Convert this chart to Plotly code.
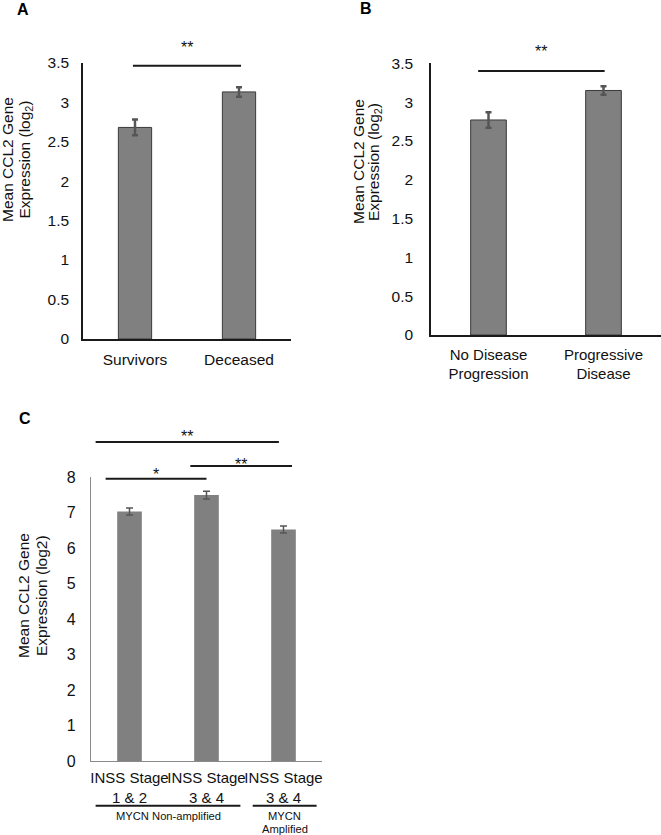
import plotly.graph_objects as go

# ---------------- data ----------------
a_categories = ["Survivors", "Deceased"]
a_values = [2.68, 3.13]
a_errors = [0.10, 0.06]

b_categories = ["No Disease<br>Progression", "Progressive<br>Disease"]
b_values = [2.77, 3.15]
b_errors = [0.10, 0.055]

c_categories = ["INSS Stage<br>1 & 2", "INSS Stage<br>3 & 4", "INSS Stage<br>3 & 4"]
c_values = [7.03, 7.49, 6.52]
c_errors = [0.10, 0.11, 0.10]

a_sig = [(0, 1, "**")]
b_sig = [(0, 1, "**")]
c_sig = [(0, 2, "**"), (1, 2, "**"), (0, 1, "*")]

c_groups = [["MYCN Non-amplified"], ["MYCN", "Amplified"]]

y_title_lines = ["Mean CCL2 Gene", "Expression (log<sub>2</sub>)"]
y_title_lines_c = ["Mean CCL2 Gene", "Expression (log2)"]

# ---------------- layout helpers ----------------
W, H = 661, 835
FONT = "Liberation Sans, Arial, sans-serif"
TXT = "#111111"


def fx(p):
    return p / W


def fy(p):
    return 1 - p / H


fig = go.Figure()
bar_fill = "#808080"

panels = [
    (a_categories, a_values, a_errors, "x", "y", 0.32, dict(color="#3a3a3a", width=1), 2.5, 3),
    (b_categories, b_values, b_errors, "x2", "y2", 0.31, dict(color="#3a3a3a", width=1), 2.5, 3),
    (c_categories, c_values, c_errors, "x3", "y3", 0.32, dict(width=0), 1.5, 3.5),
]
for cats, vals, errs, xa, ya, wid, outline, th, cw in panels:
    fig.add_trace(go.Bar(
        x=list(range(len(cats))), y=vals, width=wid,
        marker=dict(color=bar_fill, line=outline),
        error_y=dict(type="data", array=errs, color="#555555", thickness=th, width=cw),
        xaxis=xa, yaxis=ya, showlegend=False, hoverinfo="skip"))


def xaxis(domain, anchor, cats, size, standoff, color, lw):
    return dict(domain=[fx(domain[0]), fx(domain[1])], anchor=anchor, automargin=False,
                range=[-0.5, len(cats) - 0.5], tickvals=list(range(len(cats))), ticktext=cats,
                tickangle=0, showline=True, linecolor=color, linewidth=lw, showgrid=False,
                zeroline=False, ticks="", ticklabelstandoff=standoff,
                tickfont=dict(family=FONT, size=size, color=TXT))


def yaxis(domain, anchor, rng, dtick, size, standoff, color, lw):
    return dict(domain=[fy(domain[1]), fy(domain[0])], anchor=anchor, range=rng, automargin=False,
                dtick=dtick, showline=True, linecolor=color, linewidth=lw,
                showgrid=False, zeroline=False, ticks="", ticklabelstandoff=standoff,
                tickfont=dict(family=FONT, size=size, color=TXT))


A_X, A_Y = (83, 291), (62.7, 339)
B_X, B_Y = (431, 661), (63.3, 335)
C_X, C_Y = (91, 322), (477, 761)

fig.update_layout(
    width=W, height=H, margin=dict(l=0, r=0, t=0, b=0, pad=0), autosize=False,
    paper_bgcolor="white", plot_bgcolor="white",
    xaxis=xaxis(A_X, "y", a_categories, 15.5, 6, "#1a1a1a", 1.5),
    yaxis=yaxis(A_Y, "x", [0, 3.5], 0.5, 15.5, 9, "#1a1a1a", 1.5),
    xaxis2=xaxis(B_X, "y2", b_categories, 15, 5, "#1a1a1a", 1.5),
    yaxis2=yaxis(B_Y, "x2", [0, 3.5], 0.5, 15.5, 13, "#1a1a1a", 1.5),
    xaxis3=xaxis(C_X, "y3", c_categories, 15, 3, "#8a8a8a", 1.3),
    yaxis3=yaxis(C_Y, "x3", [0, 8], 1, 16, 11, "#8a8a8a", 1.3),
)

shapes = []
annotations = []

# panel letters
for letter, (px, py) in zip(["A", "B", "C"], [(23, 10), (366, 9), (25, 418)]):
    annotations.append(dict(text=f"<b>{letter}</b>", x=fx(px), y=fy(py), xref="paper", yref="paper",
                            showarrow=False, xanchor="center", yanchor="middle",
                            font=dict(family=FONT, size=16, color="black")))

# axis titles (two rotated lines each)
title_specs = [
    (y_title_lines, (8, 25.5), 160, 15.5),
    (y_title_lines, (358, 374), 162, 15.5),
    (y_title_lines_c, (23, 41), 596, 15.5),
]
for lines, xs, py, size in title_specs:
    for line, px in zip(lines, xs):
        annotations.append(dict(text=line, x=fx(px), y=fy(py), xref="paper", yref="paper",
                                showarrow=False, textangle=-90, xanchor="center", yanchor="middle",
                                font=dict(family=FONT, size=size, color=TXT)))

# significance brackets: (pairs, xref, x offsets, line pixel y, star pixel y)
sig_style = [
    (a_sig, "x", [(-0.02, 0.02)], [65.7], [47]),
    (b_sig, "x2", [(-0.09, 0.01)], [71], [52]),
    (c_sig, "x3", [(-0.44, -0.06), (-0.21, 0.11), (-0.31, 0.0)], [442, 466, 478.7], [436, 464, 474]),
]
for pairs, xr, offs, lys, sys in sig_style:
    for (i, j, lab), (o0, o1), ly, sy in zip(pairs, offs, lys, sys):
        shapes.append(dict(type="line", xref=xr, yref="paper", x0=i + o0, x1=j + o1,
                           y0=fy(ly), y1=fy(ly), line=dict(color="#1a1a1a", width=2)))
        annotations.append(dict(text=lab, xref=xr, yref="paper", x=(i + o0 + j + o1) / 2,
                                y=fy(sy), showarrow=False, xanchor="center", yanchor="middle",
                                font=dict(family=FONT, size=16, color=TXT)))

# group lines and labels below panel C
group_spans = [(-0.44, 1.44), (1.60, 2.43)]
for (g0, g1), glines in zip(group_spans, c_groups):
    shapes.append(dict(type="line", xref="x3", yref="paper", x0=g0, x1=g1,
                       y0=fy(805.7), y1=fy(805.7), line=dict(color="#1a1a1a", width=2)))
    for k, gtxt in enumerate(glines):
        annotations.append(dict(text=gtxt, xref="x3", yref="paper", x=(g0 + g1) / 2,
                                y=fy(816 + 12.7 * k), showarrow=False, xanchor="center",
                                yanchor="middle", font=dict(family=FONT, size=11.2, color=TXT)))

fig.update_layout(shapes=shapes, annotations=annotations)

fig.write_html("out.html", config={"displayModeBar": False},
               post_script="document.body.style.margin='0';")
